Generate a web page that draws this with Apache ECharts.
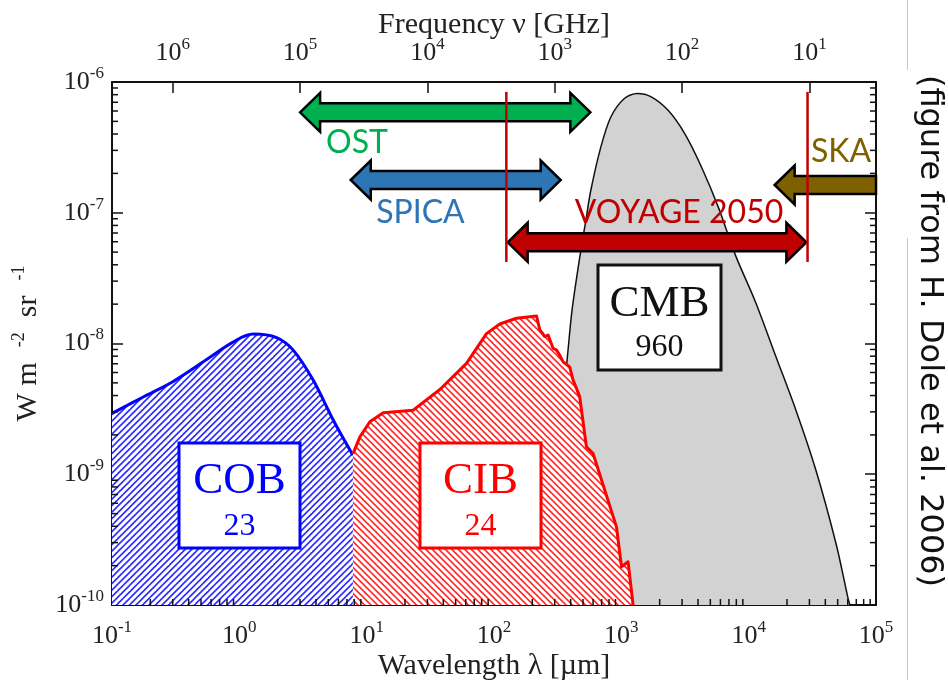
<!DOCTYPE html>
<html>
<head>
<meta charset="utf-8">
<script src="https://cdn.jsdelivr.net/npm/echarts@6/dist/echarts.min.js"></script>
<style>
  html, body { margin: 0; padding: 0; background: #fff; }
  #chart { width: 948px; height: 680px; }
</style>
</head>
<body>
<div id="chart"></div>
<script>
// Extragalactic background spectrum: COB, CIB and CMB, with instrument coverage.

// Cosmic optical background (wavelength in µm, νIν in W m^-2 sr^-1)
const cobWavelength = [0.1, 0.176, 0.30, 0.55, 0.90, 1.29, 1.96, 2.65, 3.8, 5.46, 7.8];
const cobIntensity  = [2.92e-9, 3.9e-9, 5.1e-9, 7.5e-9, 1.03e-8, 1.18e-8, 1.11e-8, 8.9e-9, 5.25e-9, 2.6e-9, 1.4e-9];

// Cosmic infrared background
const cibWavelength = [7.8, 8.85, 10.6, 13.5, 23.2, 37.6, 60.8, 87.3, 111, 150, 216, 229, 240, 250, 266, 291, 310, 328, 338, 349, 393, 418, 450, 471, 480, 532, 600, 916, 1003, 1130, 1237];
const cibIntensity  = [1.43e-9, 1.93e-9, 2.52e-9, 2.95e-9, 3.09e-9, 4.45e-9, 7.05e-9, 1.19e-8, 1.41e-8, 1.56e-8, 1.62e-8, 1.27e-8, 1.2e-8, 1.13e-8, 1.16e-8, 9.2e-9, 8.9e-9, 8.15e-9, 8.3e-9, 7.24e-9, 6.63e-9, 5.25e-9, 4.4e-9, 3.91e-9, 3.9e-9, 1.62e-9, 1.44e-9, 3.96e-10, 1.96e-10, 2.14e-10, 1e-10];

// Cosmic microwave background
const cmbWavelength = [255, 270, 300, 340, 375, 411, 479, 525, 574, 689, 827, 1056, 1331, 1717, 2330, 3155, 4276, 5806, 7870, 11330, 16320, 23500, 33880, 48790, 60390, 62500];
const cmbIntensity  = [1e-10, 2e-10, 8e-10, 3e-9, 7.5e-9, 1.83e-8, 5.03e-8, 8.58e-8, 1.46e-7, 3.16e-7, 5.4e-7, 7.48e-7, 8.17e-7, 7.7e-7, 6.07e-7, 4.01e-7, 2.22e-7, 1.09e-7, 4.74e-8, 2.07e-8, 8.0e-9, 3.09e-9, 1.06e-9, 2.89e-10, 1.12e-10, 1e-10];

// Total intensities written in the boxes (nW m^-2 sr^-1)
const backgroundNames  = ['COB', 'CIB', 'CMB'];
const backgroundTotals = [23, 24, 960];

// Instrument wavelength coverage (µm) and the level each arrow sits at
const instrumentNames = ['OST', 'SPICA', 'VOYAGE 2050', 'SKA'];
const instrumentFrom  = [3.0, 7.5, 128, 16000];
const instrumentTo    = [571, 334, 28400, 1e5];
const instrumentLevel = [5.86e-7, 1.78e-7, 5.94e-8, 1.63e-7];
const instrumentHeads = ['both', 'both', 'both', 'left'];

// Voyage 2050 band edges (µm) and the vertical extent of the edge markers
const voyageEdges  = [125, 29000];
const voyageTop    = 8.4e-7;
const voyageBottom = 4.2e-8;

// Axis ranges
const wavelengthRange = [0.1, 1e5];
const intensityRange  = [1e-10, 1e-6];
const frequencyRange  = [3, 3e6]; // GHz, c / λ across the same span

const SERIF = '"Liberation Serif", "DejaVu Serif", serif';
const SANS = 'Lato, "Open Sans", sans-serif';
const instrumentColors = ['#00b050', '#2e75b6', '#c00000', '#7f6000'];

function hatch(color, dir) {
  const s = 13, step = 6.5;
  const c = document.createElement('canvas');
  c.width = s; c.height = s;
  const g = c.getContext('2d');
  g.fillStyle = '#fff';
  g.fillRect(0, 0, s, s);
  g.strokeStyle = color;
  g.lineWidth = 1.6;
  for (let k = -3; k <= 6; k++) {
    const o = k * step;
    g.beginPath();
    if (dir === '/') { g.moveTo(o + 3, -3); g.lineTo(o - s - 3, s + 3); }
    else { g.moveTo(o - 3, -3); g.lineTo(o + s + 3, s + 3); }
    g.stroke();
  }
  return { image: c, repeat: 'repeat' };
}

function zip(a, b) { return a.map((v, i) => [v, b[i]]); }

function pow10Label(v) {
  const l = Math.log10(v);
  const e = Math.round(l);
  if (Math.abs(l - e) > 1e-6) return '';
  return '{b|10}{s|' + e + '}';
}
const powRich = {
  b: { fontFamily: SERIF, fontSize: 26, lineHeight: 34, color: '#222' },
  s: { fontFamily: SERIF, fontSize: 17, lineHeight: 19, verticalAlign: 'top', color: '#222' }
};

// Minor tick values (2..9 per decade)
function minorValues(lo, hi) {
  const out = [];
  for (let d = lo; d < hi; d++) for (let k = 2; k <= 9; k++) out.push(k * Math.pow(10, d));
  return out;
}
const xMinor = minorValues(-1, 5);
const yMinor = minorValues(-10, -6);

const chart = echarts.init(document.getElementById('chart'), null, { renderer: 'canvas' });

const tickStyle = { stroke: '#111', lineWidth: 1.5 };

const option = {
  animation: false,
  backgroundColor: '#fff',
  grid: { left: 112, right: 72, top: 82, bottom: 75, containLabel: false, outerBoundsMode: 'none' },
  xAxis: [
    {
      type: 'log', min: wavelengthRange[0], max: wavelengthRange[1], position: 'bottom',
      name: 'Wavelength λ [µm]', nameLocation: 'middle', nameGap: 46, nameMoveOverlap: false,
      nameTextStyle: { fontFamily: SERIF, fontSize: 30, color: '#222' },
      axisLine: { show: true, lineStyle: { color: '#111', width: 2 } },
      axisTick: { inside: true, length: 11, lineStyle: { color: '#111', width: 1.5 } },
      axisLabel: { formatter: pow10Label, rich: powRich, margin: 14 },
      splitLine: { show: false }
    },
    {
      type: 'log', min: frequencyRange[0], max: frequencyRange[1], position: 'top', inverse: true,
      name: 'Frequency ν [GHz]', nameLocation: 'middle', nameGap: 42, nameMoveOverlap: false,
      nameTextStyle: { fontFamily: SERIF, fontSize: 30, color: '#222' },
      axisLine: { show: true, lineStyle: { color: '#111', width: 2 } },
      axisTick: { inside: true, length: 11, lineStyle: { color: '#111', width: 1.5 } },
      axisLabel: { formatter: pow10Label, rich: powRich, margin: 12 },
      splitLine: { show: false }
    }
  ],
  yAxis: [
    {
      type: 'log', min: intensityRange[0], max: intensityRange[1], position: 'left',
      name: '{t|W m  }{s|-2}{t|  sr  }{s|-1}', nameLocation: 'middle', nameGap: 66, nameRotate: 90,
      nameMoveOverlap: false,
      nameTextStyle: {
        rich: {
          t: { fontFamily: SERIF, fontSize: 30, lineHeight: 36, color: '#222' },
          s: { fontFamily: SERIF, fontSize: 18, lineHeight: 20, verticalAlign: 'top', color: '#222' }
        }
      },
      axisLine: { show: true, lineStyle: { color: '#111', width: 2 } },
      axisTick: { inside: true, length: 11, lineStyle: { color: '#111', width: 1.5 } },
      axisLabel: { formatter: pow10Label, rich: powRich, margin: 8 },
      splitLine: { show: false }
    },
    {
      type: 'log', min: intensityRange[0], max: intensityRange[1], position: 'right',
      axisLine: { show: true, lineStyle: { color: '#111', width: 2 } },
      axisTick: { inside: true, length: 11, lineStyle: { color: '#111', width: 1.5 } },
      axisLabel: { show: false },
      splitLine: { show: false }
    }
  ],
  series: [
    {
      name: 'CMB', type: 'line', z: 1, data: zip(cmbWavelength, cmbIntensity),
      smooth: 0.3, symbol: 'none',
      lineStyle: { color: '#111', width: 1.5 },
      areaStyle: { origin: 'start', color: '#d2d2d2', opacity: 1 }
    },
    {
      name: 'COB', type: 'line', z: 2, data: zip(cobWavelength, cobIntensity),
      smooth: 0.35, symbol: 'none',
      lineStyle: { color: '#0000ff', width: 3 },
      areaStyle: { origin: 'start', color: hatch('#2b2bff', '/'), opacity: 1 }
    },
    {
      name: 'CIB', type: 'line', z: 3, data: zip(cibWavelength, cibIntensity),
      smooth: false, symbol: 'none',
      lineStyle: { color: '#ff0000', width: 3, join: 'round' },
      areaStyle: { origin: 'start', color: hatch('#ff2a2a', '\\'), opacity: 1 }
    },
    {
      name: 'instruments', type: 'custom', z: 5,
      data: instrumentNames.map((n, i) => [instrumentFrom[i], instrumentTo[i], instrumentLevel[i],
        instrumentHeads[i] !== 'right' ? 1 : 0, instrumentHeads[i] !== 'left' ? 1 : 0]),
      renderItem: function (params, api) {
        const a = api.coord([api.value(0), api.value(2)]);
        const b = api.coord([api.value(1), api.value(2)]);
        const x1 = a[0], x2 = b[0], y = a[1];
        const HL = 20, HH = 19.5, SH = 9;
        const pts = [];
        const lh = api.value(3), rh = api.value(4);
        if (lh) pts.push([x1, y], [x1 + HL, y - HH], [x1 + HL, y - SH]);
        else pts.push([x1, y + SH], [x1, y - SH]);
        if (rh) pts.push([x2 - HL, y - SH], [x2 - HL, y - HH], [x2, y], [x2 - HL, y + HH], [x2 - HL, y + SH]);
        else pts.push([x2, y - SH], [x2, y + SH]);
        if (lh) pts.push([x1 + HL, y + SH], [x1 + HL, y + HH]);
        return {
          type: 'polygon', shape: { points: pts },
          style: { fill: instrumentColors[params.dataIndex], stroke: '#000', lineWidth: 2.5, lineJoin: 'miter' }
        };
      },
      clip: false, silent: true
    },
    {
      name: 'voyageEdges', type: 'custom', z: 6,
      data: voyageEdges.map(l => [l, voyageTop, voyageBottom]),
      renderItem: function (params, api) {
        const t = api.coord([api.value(0), api.value(1)]);
        const b = api.coord([api.value(0), api.value(2)]);
        return { type: 'line', shape: { x1: t[0], y1: t[1], x2: b[0], y2: b[1] },
          style: { stroke: '#c00000', lineWidth: 2.5 } };
      },
      silent: true
    },
    {
      name: 'yMinor', type: 'custom', z: 7, data: yMinor.map(v => [1, v]),
      renderItem: function (params, api) {
        const cs = params.coordSys;
        const y = api.coord([1, api.value(1)])[1];
        return { type: 'group', children: [
          { type: 'line', shape: { x1: cs.x, y1: y, x2: cs.x + 6, y2: y }, style: tickStyle },
          { type: 'line', shape: { x1: cs.x + cs.width, y1: y, x2: cs.x + cs.width - 6, y2: y }, style: tickStyle }
        ] };
      },
      silent: true
    },
    {
      name: 'xMinor', type: 'custom', z: 7, data: xMinor.map(v => [v, 1e-9]),
      renderItem: function (params, api) {
        const cs = params.coordSys;
        const x = api.coord([api.value(0), 1e-9])[0];
        const yb = cs.y + cs.height;
        return { type: 'line', shape: { x1: x, y1: yb, x2: x, y2: yb - 6 }, style: tickStyle };
      },
      silent: true
    }
  ],
  graphic: [
    // labelled boxes
    { type: 'rect', shape: { x: 179, y: 443, width: 121, height: 105 }, style: { fill: '#fff', stroke: '#0000ff', lineWidth: 3 }, z: 10 },
    { type: 'text', x: 239.5, y: 481, style: { text: backgroundNames[0], fontFamily: SERIF, fontSize: 45, fill: '#0000ff', align: 'center', verticalAlign: 'middle' }, z: 11 },
    { type: 'text', x: 239.5, y: 527, style: { text: String(backgroundTotals[0]), fontFamily: SERIF, fontSize: 32, fill: '#0000ff', align: 'center', verticalAlign: 'middle' }, z: 11 },

    { type: 'rect', shape: { x: 420, y: 443, width: 121, height: 105 }, style: { fill: '#fff', stroke: '#ff0000', lineWidth: 3 }, z: 10 },
    { type: 'text', x: 480.5, y: 481, style: { text: backgroundNames[1], fontFamily: SERIF, fontSize: 45, fill: '#ff0000', align: 'center', verticalAlign: 'middle' }, z: 11 },
    { type: 'text', x: 480.5, y: 527, style: { text: String(backgroundTotals[1]), fontFamily: SERIF, fontSize: 32, fill: '#ff0000', align: 'center', verticalAlign: 'middle' }, z: 11 },

    { type: 'rect', shape: { x: 598, y: 265, width: 123, height: 105 }, style: { fill: '#fff', stroke: '#111', lineWidth: 3 }, z: 10 },
    { type: 'text', x: 659.5, y: 304, style: { text: backgroundNames[2], fontFamily: SERIF, fontSize: 45, fill: '#111', align: 'center', verticalAlign: 'middle' }, z: 11 },
    { type: 'text', x: 659.5, y: 348, style: { text: String(backgroundTotals[2]), fontFamily: SERIF, fontSize: 32, fill: '#111', align: 'center', verticalAlign: 'middle' }, z: 11 },

    // instrument names
    { type: 'text', x: 357, y: 143, style: { text: instrumentNames[0], fontFamily: SANS, fontSize: 32, fill: instrumentColors[0], align: 'center', verticalAlign: 'middle' }, z: 12 },
    { type: 'text', x: 420.5, y: 212.5, style: { text: instrumentNames[1], fontFamily: SANS, fontSize: 32, fill: instrumentColors[1], align: 'center', verticalAlign: 'middle' }, z: 12 },
    { type: 'text', x: 679, y: 212.5, style: { text: instrumentNames[2], fontFamily: SANS, fontSize: 32, fill: instrumentColors[2], align: 'center', verticalAlign: 'middle' }, z: 12 },
    { type: 'text', x: 841, y: 152, style: { text: instrumentNames[3], fontFamily: SANS, fontSize: 32, fill: instrumentColors[3], align: 'center', verticalAlign: 'middle' }, z: 12 },

    // credit along the right margin
    { type: 'line', shape: { x1: 907.5, y1: 0, x2: 907.5, y2: 70 }, style: { stroke: '#c8c8c8', lineWidth: 1 } },
    { type: 'line', shape: { x1: 907.5, y1: 238, x2: 907.5, y2: 680 }, style: { stroke: '#c8c8c8', lineWidth: 1 } },
    { type: 'text', x: 929, y: 331, rotation: -Math.PI / 2,
      style: { text: '(figure from H. Dole et al. 2006)', fontFamily: '"DejaVu Sans", sans-serif', fontSize: 32, fill: '#111', align: 'center', verticalAlign: 'middle' }, z: 12 }
  ]
};

chart.setOption(option);
</script>
</body>
</html>
